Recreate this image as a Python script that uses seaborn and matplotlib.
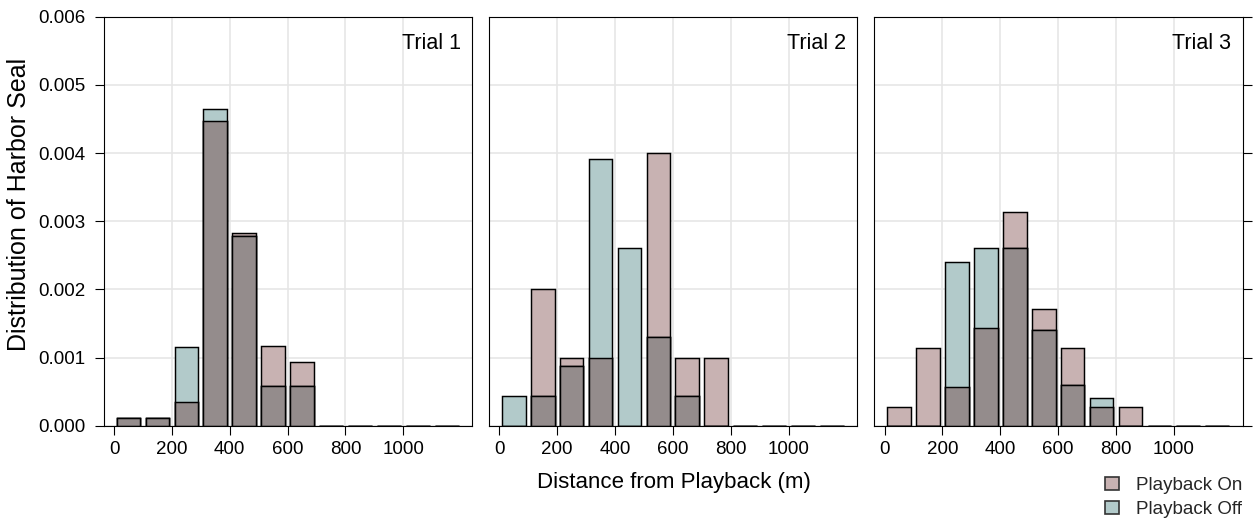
import numpy as np
import pandas as pd
import matplotlib
matplotlib.use("Agg")
import matplotlib.pyplot as plt
from matplotlib.patches import Patch
from matplotlib.ticker import FormatStrFormatter
import seaborn as sns

# Distance bins (midpoints, m) and density of harbor seal sightings per trial
bin_mid = [50, 150, 250, 350, 450, 550, 650, 750, 850, 950, 1050, 1150]

trial1_on = [0.00012, 0.00012, 0.00035, 0.00447, 0.00282, 0.00117, 0.00094, 0, 0, 0, 0, 0]
trial1_off = [0.00012, 0.00012, 0.00116, 0.00465, 0.00279, 0.00058, 0.00058, 0, 0, 0, 0, 0]
trial2_on = [0, 0.00200, 0.00100, 0.00100, 0, 0.00400, 0.00100, 0.00100, 0, 0, 0, 0]
trial2_off = [0.00043, 0.00043, 0.00087, 0.00391, 0.00261, 0.00130, 0.00043, 0, 0, 0, 0, 0]
trial3_on = [0.00028, 0.00114, 0.00057, 0.00143, 0.00314, 0.00171, 0.00114, 0.00028, 0.00028, 0, 0, 0]
trial3_off = [0, 0, 0.00240, 0.00260, 0.00260, 0.00140, 0.00060, 0.00040, 0, 0, 0, 0]

trial_names = ["Trial 1", "Trial 2", "Trial 3"]
series_names = ["Playback On", "Playback Off"]
x_ticks = [0, 200, 400, 600, 800, 1000]
y_ticks = [0.000, 0.001, 0.002, 0.003, 0.004, 0.005, 0.006]

trials = [(trial1_on, trial1_off), (trial2_on, trial2_off), (trial3_on, trial3_off)]

col_on = "#C8B2B2"
col_off = "#B2CACA"
col_both = "#948C8C"

sns.set_theme(style="ticks")
plt.rcParams["font.family"] = ["Liberation Sans", "DejaVu Sans"]
plt.rcParams["axes.edgecolor"] = "black"
plt.rcParams["axes.linewidth"] = 0.8

fig, axes = plt.subplots(1, 3, figsize=(12.57, 5.18), dpi=100, sharey=False)
fig.subplots_adjust(left=0.0827, right=0.9886, bottom=0.1782, top=0.9678, wspace=0.0462)

hist_kw = dict(binwidth=100, binrange=(0, 1200), shrink=0.82, alpha=1,
               edgecolor="black", linewidth=1.05)

for i, (ax, (on, off), name) in enumerate(zip(axes, trials, trial_names)):
    df = pd.DataFrame({"dist": bin_mid, "on": on, "off": off})
    df["both"] = np.minimum(df["on"], df["off"])
    sns.histplot(data=df, x="dist", weights="on", color=col_on, ax=ax, **hist_kw)
    sns.histplot(data=df, x="dist", weights="off", color=col_off, ax=ax, **hist_kw)
    sns.histplot(data=df, x="dist", weights="both", color=col_both, ax=ax, **hist_kw)

    ax.set_xlim(-35, 1238)
    ax.set_ylim(0, 0.006)
    ax.set_xticks(x_ticks)
    ax.set_yticks(y_ticks)
    ax.set_xlabel("")
    ax.set_ylabel("")
    ax.set_axisbelow(True)
    ax.grid(True, color="#E6E6E6", linewidth=1.2)
    ax.get_xgridlines()[0].set_visible(False)
    for sp in ax.spines.values():
        sp.set_visible(True)
        sp.set_color("black")
        sp.set_linewidth(0.8)
    ax.tick_params(axis="x", length=6.5, width=0.8, pad=4.5, labelsize=13.5, colors="black")
    ax.tick_params(axis="y", length=6.5, width=0.8, pad=7, labelsize=13.5, colors="black")
    ax.text(0.9685, 0.935, name, transform=ax.transAxes, ha="right", va="center",
            fontsize=15.5, color="black")

axes[0].yaxis.set_major_formatter(FormatStrFormatter("%.3f"))
axes[1].tick_params(axis="y", left=False, labelleft=False)
axes[2].tick_params(axis="y", left=False, labelleft=False, right=True, labelright=False)

fig.text(0.5358, 0.0676, "Distance from Playback (m)", ha="center", va="center",
         fontsize=16, color="black")
fig.text(0.0155, 0.6062, "Distribution of Harbor Seal", ha="center", va="center",
         rotation=90, fontsize=18, color="black")

handles = [Patch(facecolor=col_on, edgecolor="#333333", linewidth=1.2),
           Patch(facecolor=col_off, edgecolor="#333333", linewidth=1.2)]
fig.legend(handles, series_names, loc="upper left", bbox_to_anchor=(0.8791, 0.0800),
           frameon=False, fontsize=13.5, handlelength=0.75, handleheight=0.75,
           handletextpad=0.9, labelspacing=0.36, borderpad=0, borderaxespad=0)

fig.savefig("out.png", dpi=100)
